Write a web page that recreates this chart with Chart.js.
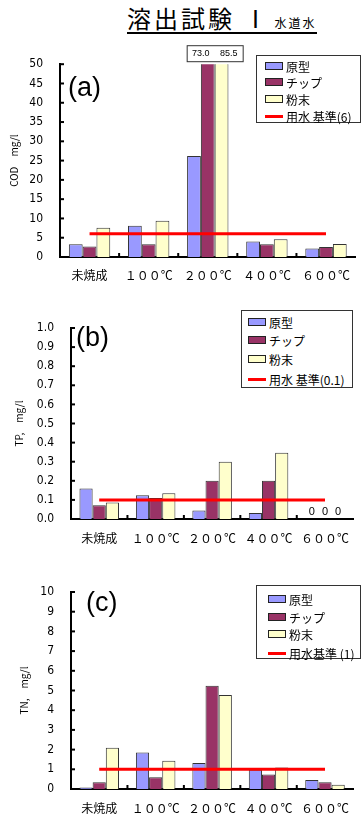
<!DOCTYPE html>
<html>
<head>
<meta charset="utf-8">
<script src="https://cdn.jsdelivr.net/npm/chart.js@4.4.0/dist/chart.umd.min.js"></script>
<style>
    body { margin: 0; width: 361px; height: 814px; position: relative; overflow: hidden; background: #fff;
           font-family: 'Noto Sans CJK JP', 'Liberation Sans', sans-serif; }
    #title { position: absolute; left: 127px; top: 4px; width: 190px; height: 28px; border-bottom: 2px solid #000;
             white-space: nowrap; line-height: 28px; }
    #title .big { font-size: 24px; letter-spacing: 3px; }
    #title .small { font-size: 12px; letter-spacing: 2px; margin-left: 4px; }
    .panel { position: absolute; left: 0; width: 361px; }
    .tag { position: absolute; font-family: 'Liberation Sans', Arial, sans-serif; font-size: 27px; line-height: 1; }
    .legend { position: absolute; border: 1px solid #333; background: #fff; box-sizing: border-box; font-size: 12px; }
    .legend .row { position: absolute; left: 0; display: flex; align-items: center; height: 14px; white-space: nowrap; }
    .legend .sw { display: inline-block; width: 16px; height: 6px; border: 1px solid #222; margin-right: 3px; }
    .legend .ln { display: inline-block; width: 18px; height: 3px; margin-right: 3px; }
</style>
</head>
<body>
<div id="title"><span class="big">溶出試験 Ⅰ</span><span class="small">水道水</span></div>

<div class="panel" style="top:40px;height:245px"><canvas id="chartA"></canvas></div>
<div class="tag" style="left:68px;top:74px">(a)</div>
<div class="legend" id="legendA" style="left:256px;top:55px;width:105px;height:68px"></div>

<div class="panel" style="top:300px;height:245px"><canvas id="chartB"></canvas></div>
<div class="tag" style="left:76px;top:324px">(b)</div>
<div class="legend" id="legendB" style="left:241px;top:310px;width:112px;height:78px"></div>

<div class="panel" style="top:560px;height:254px"><canvas id="chartC"></canvas></div>
<div class="tag" style="left:86px;top:589px">(c)</div>
<div class="legend" id="legendC" style="left:256px;top:585px;width:105px;height:74px"></div>

<script>
// categories and series
const categories = ['未焼成', '１００℃', '２００℃', '４００℃', '６００℃'];
const seriesNames = ['原型', 'チップ', '粉末'];
const seriesColors = ['#9999FF', '#993366', '#FFFFCC'];

// COD, mg/l
const codGenkei = [3.3, 8.1, 26.2, 4.0, 2.2];
const codChip = [2.7, 3.3, 73.0, 3.3, 2.6];
const codFunmatsu = [7.6, 9.4, 85.5, 4.6, 3.4];
const codStandard = 6;

// TP, mg/l
const tpGenkei = [0.16, 0.125, 0.045, 0.032, 0];
const tpChip = [0.072, 0.11, 0.2, 0.2, 0];
const tpFunmatsu = [0.086, 0.135, 0.3, 0.347, 0];
const tpStandard = 0.1;

// TN, mg/l
const tnGenkei = [0.08, 1.85, 1.32, 0.98, 0.46];
const tnChip = [0.34, 0.6, 5.24, 0.74, 0.34];
const tnFunmatsu = [2.1, 1.44, 4.77, 1.09, 0.22];
const tnStandard = 1;

const numFont = { family: "'Liberation Sans Narrow', 'DejaVu Sans Condensed', 'Liberation Sans', sans-serif", size: 12 };
const cjkFont = { family: "'Noto Sans CJK JP', sans-serif", size: 12 };

// small tick marks drawn inside the axes
const innerTicks = {
    id: 'innerTicks',
    afterDatasetsDraw(chart) {
        const { ctx, chartArea, scales: { x, y } } = chart;
        ctx.save();
        ctx.strokeStyle = '#000';
        ctx.lineWidth = 2;
        y.ticks.forEach((t, i) => {
            const py = y.getPixelForTick(i);
            ctx.beginPath();
            ctx.moveTo(chartArea.left, py);
            ctx.lineTo(chartArea.left + 4, py);
            ctx.stroke();
        });
        for (let i = 1; i < x.ticks.length; i++) {
            const px = (x.getPixelForTick(i - 1) + x.getPixelForTick(i)) / 2;
            ctx.beginPath();
            ctx.moveTo(px, chartArea.bottom);
            ctx.lineTo(px, chartArea.bottom - 4);
            ctx.stroke();
        }
        ctx.restore();
    }
};

// values above the axis max are written in a box over the plot; zeros written above the axis
const valueNotes = {
    id: 'valueNotes',
    afterDatasetsDraw(chart, args, opts) {
        const { ctx, chartArea, scales: { y } } = chart;
        const over = [];
        const zeros = [];
        chart.data.datasets.forEach((ds, di) => {
            if (ds.type === 'line') return;
            const meta = chart.getDatasetMeta(di);
            ds.data.forEach((v, i) => {
                if (v > y.max) over.push({ x: meta.data[i].x, v });
                if (opts.zeros && v === 0) zeros.push({ x: meta.data[i].x });
            });
        });
        ctx.save();
        ctx.fillStyle = '#000';
        ctx.font = "9px 'Liberation Sans', sans-serif";
        ctx.textAlign = 'center';
        ctx.textBaseline = 'middle';
        if (over.length) {
            const cx = over.reduce((s, o) => s + o.x, 0) / over.length;
            const w = 28 * over.length;
            ctx.fillStyle = '#fff';
            ctx.fillRect(cx - w / 2, chartArea.top - 19, w, 16);
            ctx.strokeStyle = '#333';
            ctx.lineWidth = 1;
            ctx.strokeRect(cx - w / 2 + 0.5, chartArea.top - 18.5, w, 16);
            ctx.fillStyle = '#000';
            over.forEach((o, k) => {
                ctx.fillText(o.v.toFixed(1), cx - w / 2 + 14 + 28 * k, chartArea.top - 10.5);
            });
        }
        ctx.font = "11px 'Liberation Sans', sans-serif";
        zeros.forEach(z => ctx.fillText('0', z.x, y.getPixelForValue(0) - 7));
        ctx.restore();
    }
};

function makeChart(id, cfg) {
    const barSets = cfg.values.map((vals, k) => ({
        type: 'bar',
        label: seriesNames[k],
        data: vals,
        backgroundColor: seriesColors[k],
        borderColor: '#333',
        borderWidth: 1,
        categoryPercentage: 0.7,
        barPercentage: 1.0,
        order: 1
    }));
    const lineSet = {
        type: 'line',
        label: cfg.standardLabel,
        data: categories.map(() => cfg.standard),
        borderColor: '#FF0000',
        borderWidth: 3,
        pointRadius: 0,
        fill: false,
        order: 0
    };
    const chart = new Chart(document.getElementById(id), {
        data: { labels: categories, datasets: [...barSets, lineSet] },
        options: {
            responsive: true,
            maintainAspectRatio: false,
            animation: false,
            layout: { padding: { top: cfg.padTop, left: 0, right: 0, bottom: 0 } },
            plugins: {
                legend: { display: false },
                tooltip: { enabled: false },
                valueNotes: { zeros: cfg.zeros }
            },
            scales: {
                x: {
                    ticks: { padding: cfg.xPad, color: '#000', font: cjkFont, maxRotation: 0, autoSkip: false },
                    grid: { display: false, drawTicks: false },
                    border: { display: true, color: '#000', width: 2 },
                    afterFit(s) { s.height = cfg.bottom; }
                },
                y: {
                    min: 0,
                    max: cfg.max,
                    ticks: { stepSize: cfg.step, padding: 17, color: '#000', font: numFont,
                             callback: v => v.toFixed(cfg.decimals) },
                    grid: { display: false, drawTicks: false },
                    border: { display: true, color: '#000', width: 2 },
                    title: { display: true, text: cfg.yTitle, color: '#000',
                             font: { family: "'Noto Sans CJK JP', sans-serif", size: 10 },
                             padding: { top: cfg.titlePad, bottom: 0 } },
                    afterFit(s) { s.width = cfg.left; }
                }
            }
        },
        plugins: [innerTicks, valueNotes]
    });
    return chart;
}

function buildLegend(elId, chart, rows) {
    const box = document.getElementById(elId);
    chart.data.datasets.forEach((ds, i) => {
        const row = document.createElement('div');
        row.className = 'row';
        row.style.top = (rows.top[i] - 7) + 'px';
        row.style.left = rows.left + 'px';
        const mark = document.createElement('span');
        if (ds.type === 'line') {
            mark.className = 'ln';
            mark.style.background = ds.borderColor;
        } else {
            mark.className = 'sw';
            mark.style.background = ds.backgroundColor;
        }
        row.appendChild(mark);
        row.appendChild(document.createTextNode(ds.label));
        box.appendChild(row);
    });
}

const chartA = makeChart('chartA', {
    values: [codGenkei, codChip, codFunmatsu], standard: codStandard, standardLabel: '用水 基準(6)',
    max: 50, step: 5, decimals: 0, yTitle: 'COD　mg/l', titlePad: 8,
    left: 60, padTop: 21, bottom: 28, xPad: 11, zeros: false
});
const chartB = makeChart('chartB', {
    values: [tpGenkei, tpChip, tpFunmatsu], standard: tpStandard, standardLabel: '用水 基準(0.1)',
    max: 1, step: 0.1, decimals: 1, yTitle: 'TP,　mg/l', titlePad: 13,
    left: 71, padTop: 28, bottom: 26, xPad: 12, zeros: true
});
const chartC = makeChart('chartC', {
    values: [tnGenkei, tnChip, tnFunmatsu], standard: tnStandard, standardLabel: '用水基準 (1)',
    max: 10, step: 1, decimals: 0, yTitle: 'TN,　mg/l', titlePad: 18,
    left: 71, padTop: 32, bottom: 25, xPad: 12, zeros: false
});

buildLegend('legendA', chartA, { left: 8, top: [10, 26, 43, 60] });
buildLegend('legendB', chartB, { left: 6, top: [11, 29, 48, 68] });
buildLegend('legendC', chartC, { left: 11, top: [13, 31, 48, 67] });
</script>
</body>
</html>
